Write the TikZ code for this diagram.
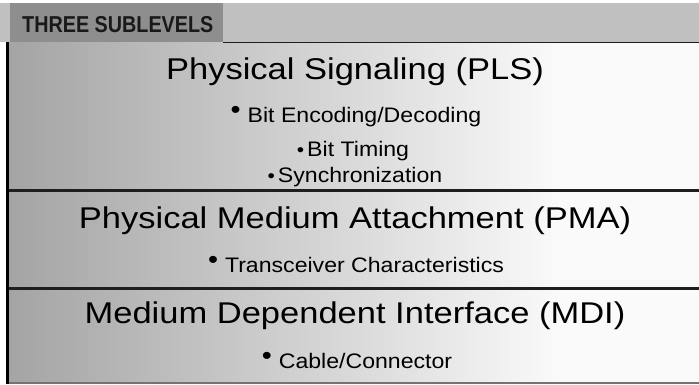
\documentclass[tikz,border=0pt]{standalone}
\usepackage{fontspec}
\setmainfont{Liberation Sans}
\newfontfamily\titlefont[FakeStretch=1.15]{Liberation Sans}
\newfontfamily\itemfont[FakeStretch=1.1]{Liberation Sans}
\newfontfamily\tabfont[FakeStretch=0.86]{Liberation Sans Bold}
\definecolor{bandgray}{HTML}{C0C0C0}
\definecolor{tabgray}{HTML}{8E8E8E}
\definecolor{fadeleft}{HTML}{A4A4A4}
\definecolor{faderight}{HTML}{FAFAFA}
\definecolor{rulegray}{HTML}{1E1E1E}
% left-to-right fade used by the three layer boxes (25bp..75bp maps onto the box)
\pgfdeclarehorizontalshading{layerfade}{100bp}{%
  color(0bp)=(fadeleft); color(25bp)=(fadeleft);
  color(65bp)=(faderight); color(75bp)=(faderight); color(100bp)=(faderight)}
\tikzset{
  layer/.style={shading=layerfade, draw=none},
  title/.style={anchor=base, inner sep=0pt, font=\titlefont\fontsize{30}{30}\selectfont, text=black},
  item/.style={anchor=base, inner sep=0pt, font=\itemfont\fontsize{21}{21}\selectfont, text=black},
  sep/.style={draw=rulegray, line width=2.6pt},
}
\newcommand{\bigdot}{\raisebox{4pt}{\fontsize{26}{26}\selectfont\textbullet}\hspace{7pt}}
\newcommand{\smalldot}{{\fontsize{19}{19}\selectfont\textbullet}\hspace{3pt}}
\begin{document}
\begin{tikzpicture}[x=1pt,y=-1pt]
  \useasboundingbox (0,0) rectangle (699,384);
  \fill[white] (0,0) rectangle (699,384);
  % header band and tab
  \fill[bandgray] (0,3) rectangle (699,42);
  \fill[tabgray] (10,3) rectangle (223,42);
  \node[anchor=base west, inner sep=0pt, font=\tabfont\fontsize{23}{23}\selectfont, text=black!90] (tab) at (22,32) {THREE SUBLEVELS};
  % layer boxes
  \shade[layer] (8,42) rectangle (699,190);
  \shade[layer] (8,190) rectangle (699,288);
  \shade[layer] (8,288) rectangle (699,383);
  % rules
  \draw[draw=rulegray, line width=1.4pt] (223,42.5) -- (699,42.5);
  \draw[sep] (8,190.5) -- (699,190.5);
  \draw[sep] (8,288.5) -- (699,288.5);
  \draw[draw=black!55, line width=2pt] (8,383) -- (699,383);
  \draw[draw=black, line width=2.2pt] (7.5,42) -- (7.5,384);
  % PLS
  \node[title] (pls) at (355,79) {Physical Signaling (PLS)};
  \node[item] (pls1) at (356,122) {\bigdot Bit Encoding/Decoding};
  \node[item] (pls2) at (353,156) {\smalldot Bit Timing};
  \node[item] (pls3) at (355,182) {\smalldot Synchronization};
  % PMA
  \node[title] (pma) at (355,228) {Physical Medium Attachment (PMA)};
  \node[item] (pma1) at (356,272) {\bigdot Transceiver Characteristics};
  % MDI
  \node[title] (mdi) at (355,323) {Medium Dependent Interface (MDI)};
  \node[item] (mdi1) at (357,368) {\bigdot Cable/Connector};
\end{tikzpicture}
\end{document}
